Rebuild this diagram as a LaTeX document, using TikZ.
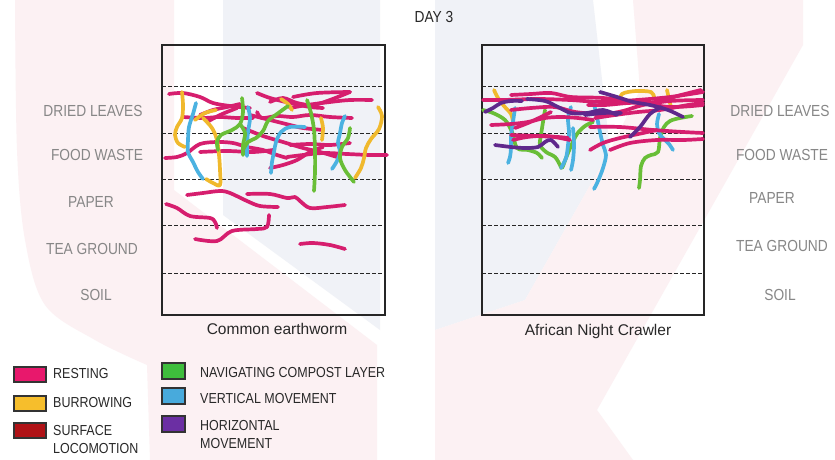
\documentclass[tikz,border=0pt]{standalone}
\usepackage{fontspec}
\setmainfont{Liberation Sans}
\newfontfamily\condf[FakeStretch=0.86]{Liberation Sans}
\definecolor{cpink}{RGB}{214,30,110}
\definecolor{cyel}{RGB}{240,185,45}
\definecolor{cgreen}{RGB}{105,190,55}
\definecolor{cblue}{RGB}{75,178,225}
\definecolor{cpurple}{RGB}{95,40,140}
\definecolor{sPink}{RGB}{232,24,108}
\definecolor{sYel}{RGB}{246,190,44}
\definecolor{sRed}{RGB}{176,18,22}
\definecolor{sGreen}{RGB}{62,190,60}
\definecolor{sBlue}{RGB}{72,170,220}
\definecolor{sPurple}{RGB}{107,47,163}
\definecolor{wmpink}{RGB}{252,241,243}
\definecolor{wmblue}{RGB}{240,242,247}
\definecolor{lblgrey}{RGB}{135,135,135}
\definecolor{txtdark}{RGB}{40,40,40}
\begin{document}
\begin{tikzpicture}[x=1pt,y=-1pt,
  worm/.style={line width=3.7pt, line cap=round, line join=round},
  rest/.style={worm, draw=cpink},
  burrow/.style={worm, draw=cyel},
  navig/.style={worm, draw=cgreen},
  vert/.style={worm, draw=cblue},
  horiz/.style={worm, draw=cpurple},
  frame/.style={draw=black!85, line width=1.3pt},
  layer/.style={draw=black!85, line width=0.9pt, dash pattern=on 3.5pt off 2.5pt},
  lbl/.style={text=lblgrey, inner sep=0pt, font=\condf\fontsize{16}{19}\selectfont},
  captext/.style={text=txtdark, inner sep=0pt, font=\fontsize{15.5}{18}\selectfont},
  leg/.style={text=txtdark, inner sep=0pt, anchor=west, align=left, font=\condf\fontsize{14.5}{18}\selectfont},
  swatch/.style={draw=black!80, line width=1.1pt, inner sep=0pt},
  sm/.style={smooth, tension=0.55}]
\useasboundingbox (0,0) rectangle (835,460);
\fill[white] (0,0) rectangle (835,460);
% faint watermark
\fill[wmpink] plot[sm] coordinates {(15,0) (17,150) (25,240) (45,305) (95,340) (147,365)} -- (150,460) -- (377,460) -- (377,345) -- (174,190) -- (174,0) -- cycle;
\fill[wmblue] (223,0) -- (380,0) -- (380,330) -- (223,215) -- cycle;
\fill[wmblue] (435,0) -- (593,0) -- (610,150) -- (525,300) -- (435,330) -- cycle;
\fill[wmpink] (633,0) -- (803,0) -- (803,45) -- (597,410) -- (633,460) -- (435,460) -- (435,330) -- (525,300) -- (610,150) -- (640,90) -- cycle;

% title
\node[text=txtdark, inner sep=0pt, font=\condf\fontsize{16}{19}\selectfont] (title) at (434,17) {DAY 3};

% frames
\draw[frame] (162,45) rectangle (385,315);
\draw[frame] (482,45) rectangle (704,315);
\foreach \yy in {86,133,179,225,273}{
  \draw[layer] (162,\yy) -- (385,\yy);
  \draw[layer] (482,\yy) -- (704,\yy);
}

% ---------- left box: common earthworm ----------
\draw[rest] plot[sm] coordinates {(169,94) (183,93) (200,97) (213,103) (230,106) (250,108)};
\draw[rest] plot[sm] coordinates {(257,93) (270,98) (290,103) (310,107) (323,108)};
\draw[rest] plot[sm] coordinates {(293,97) (317,93) (350,92)};
\draw[rest] plot[sm] coordinates {(270,102) (283,98) (297,103) (313,105) (330,100) (350,92)};
\draw[rest] plot[sm] coordinates {(290,108) (307,105) (330,102) (350,100) (372,100)};
\draw[rest] plot[sm] coordinates {(183,117) (203,118) (220,117) (237,118) (253,118)};
\draw[rest] plot[sm] coordinates {(200,115) (213,110) (227,107) (240,104)};
\draw[rest] plot[sm] coordinates {(207,122) (220,115) (237,108)};
\draw[rest] plot[sm] coordinates {(257,112) (262,118) (277,116) (293,117) (310,115) (330,117) (352,118)};
\draw[rest] plot[sm] coordinates {(250,115) (270,120) (290,125) (303,128) (323,130)};
\draw[rest] plot[sm] coordinates {(165,158) (177,157) (187,153) (200,144) (217,142) (233,143) (247,147) (263,150) (277,155) (287,158)};
\draw[rest] plot[sm] coordinates {(200,152) (227,151) (253,152) (273,150)};
\draw[rest] plot[sm] coordinates {(243,128) (263,136) (283,142) (303,148) (320,152) (337,157)};
\draw[rest] plot[sm] coordinates {(290,145) (310,144) (330,145) (350,143)};
\draw[rest] plot[sm] coordinates {(287,157) (303,155) (323,153) (347,154) (370,155) (387,155)};
\draw[rest] plot[sm] coordinates {(270,168) (283,165) (297,160) (310,152) (323,147)};
\draw[rest] plot[sm] coordinates {(187,195) (203,193) (220,191) (230,193) (247,201) (260,206) (278,207)};
\draw[rest] plot[sm] coordinates {(247,194) (270,194) (287,198) (295,197) (300,201) (310,208) (327,207) (345,205)};
\draw[rest] plot[sm] coordinates {(166,204) (177,208) (190,216) (210,218) (215,222) (217,228)};
\draw[rest] plot[sm] coordinates {(195,239) (217,241) (232,231) (257,229) (267,227) (269,215)};
\draw[rest] plot[sm] coordinates {(300,244) (313,243) (330,245) (345,249)};

\draw[burrow] plot[sm] coordinates {(182,92) (183,105) (182,118) (177,127) (175,135) (178,143) (185,147)};
\draw[burrow] plot[sm] coordinates {(195,120) (205,113) (216,110)};
\draw[burrow] plot[sm] coordinates {(203,118) (212,128) (217,140) (219,155) (220,170) (220,185) (213,183) (206,179)};
\draw[burrow] plot[sm] coordinates {(378,107) (382,116) (379,129) (371,139) (366,148) (364,158) (361,168) (355,178)};
\draw[burrow] plot[sm] coordinates {(281,99) (288,104) (292,110)};
\draw[burrow] plot[sm] coordinates {(321,118) (323,128) (322,140)};

\draw[vert] plot[sm] coordinates {(196,103) (193,114) (189,127) (188,140) (188,152) (193,162) (198,172) (203,179)};
\draw[vert] plot[sm] coordinates {(248,107) (250,118) (248,132) (247,145) (247,156)};
\draw[vert] plot[sm] coordinates {(305,127) (290,127) (281,132) (276,142) (274,152) (272,162) (271,173)};
\draw[vert] plot[sm] coordinates {(345,116) (342,123) (340,133) (338,143) (340,152) (337,161) (332,169)};

\draw[navig] plot[sm] coordinates {(242,98) (243,112) (240,124) (232,130) (221,135) (217,142) (218,150)};
\draw[navig] plot[sm] coordinates {(240,124) (245,133) (243,145) (243,155)};
\draw[navig] plot[sm] coordinates {(288,106) (277,114) (268,121) (263,131) (256,138) (248,142) (243,150)};
\draw[navig] plot[sm] coordinates {(307,100) (311,113) (314,130) (315,152) (315,172) (314,191)};
\draw[navig] plot[sm] coordinates {(350,128) (348,138) (342,147) (340,158) (345,170) (354,182)};

% ---------- right box: african night crawler ----------
\draw[burrow] plot[sm] coordinates {(494,90) (498,98) (504,106) (511,114) (513,122)};
\draw[burrow] plot[sm] coordinates {(620,103) (622,94) (636,91) (651,92) (654,97)};
\draw[burrow] plot[sm] coordinates {(667,90) (669,99) (671,107)};

\draw[navig] plot[sm] coordinates {(483,110) (493,113) (505,120) (512,132) (517,148) (528,150) (537,153) (542,158)};
\draw[navig] plot[sm] coordinates {(545,110) (543,122) (541,135) (540,145) (546,152) (555,157) (560,165) (562,168) (566,158) (571,146) (577,134) (585,126) (593,122)};
\draw[navig] plot[sm] coordinates {(692,116) (680,118) (670,121) (664,127) (660,138) (658,152) (651,155) (645,158) (641,166) (640,180) (639,188)};

\draw[vert] plot[sm] coordinates {(515,108) (513,122) (511,136) (511,148) (510,157) (508,163)};
\draw[vert] plot[sm] coordinates {(571,107) (568,118) (569,132) (568,145) (566,158) (561,168)};
\draw[vert] plot[sm] coordinates {(573,128) (574,145) (573,160) (571,170)};
\draw[vert] plot[sm] coordinates {(594,104) (597,117) (600,132) (603,145) (606,155) (603,168) (598,181) (594,189)};
\draw[vert] plot[sm] coordinates {(659,114) (657,124) (659,133) (664,139) (669,144) (673,150)};

\draw[rest] plot[sm] coordinates {(483,100) (503,100) (537,99) (570,100) (603,102) (637,100) (670,97) (703,92)};
\draw[rest] plot[sm] coordinates {(511,95) (531,94) (551,93) (571,97) (603,98) (637,102) (670,107) (703,105)};
\draw[rest] plot[sm] coordinates {(511,110) (531,108) (555,107) (575,112) (603,114) (623,111) (643,105) (670,101) (703,100)};
\draw[rest] plot[sm] coordinates {(491,125) (511,124) (528,122) (545,118) (561,117) (578,118) (593,120)};
\draw[rest] plot[sm] coordinates {(511,135) (535,136) (558,137) (568,138)};
\draw[rest] plot[sm] coordinates {(515,128) (528,123) (541,117) (551,112)};
\draw[rest] plot[sm] coordinates {(590,150) (603,143) (620,138) (643,133) (657,130)};
\draw[rest] plot[sm] coordinates {(610,150) (630,143) (657,140) (683,140) (703,139)};
\draw[rest] plot[sm] coordinates {(590,127) (620,127) (653,130) (683,132) (703,133)};
\draw[rest] plot[sm] coordinates {(513,140) (527,137) (547,136) (570,140)};
\draw[rest] plot[sm] coordinates {(588,105) (605,105) (628,103) (655,102) (681,95) (701,90)};
\draw[rest] plot[sm] coordinates {(595,118) (615,115) (638,112) (660,110) (688,105) (703,103)};

\draw[horiz] plot[sm] coordinates {(485,112) (493,108) (501,103) (511,101) (522,101)};
\draw[horiz] plot[sm] coordinates {(527,99) (545,101) (558,107) (571,113) (587,113) (603,110) (617,115)};
\draw[horiz] plot[sm] coordinates {(495,145) (511,147) (525,148) (538,147) (545,142) (551,140) (558,147)};
\draw[horiz] plot[sm] coordinates {(600,92) (617,97) (633,102) (650,105) (668,110) (683,117)};
\draw[horiz] plot[sm] coordinates {(585,115) (603,113) (621,113)};
\draw[horiz] plot[sm] coordinates {(630,137) (640,127) (650,114) (661,107)};

% layer labels
\node[lbl] (l1) at (93,111) {DRIED LEAVES};
\node[lbl] (l2) at (97,155) {FOOD WASTE};
\node[lbl] (l3) at (91,202) {PAPER};
\node[lbl] (l4) at (92,249) {TEA GROUND};
\node[lbl] (l5) at (96,295) {SOIL};
\node[lbl] (r1) at (780,111) {DRIED LEAVES};
\node[lbl] (r2) at (782,155) {FOOD WASTE};
\node[lbl] (r3) at (772,198) {PAPER};
\node[lbl] (r4) at (782,246) {TEA GROUND};
\node[lbl] (r5) at (780,295) {SOIL};

% captions
\node[captext] (c1) at (277,329) {Common earthworm};
\node[captext] (c2) at (598,331) {African Night Crawler};

% legend
\node[swatch, fill=sPink, minimum width=32pt, minimum height=15pt] (s1) at (30,374.5) {};
\node[swatch, fill=sYel, minimum width=32pt, minimum height=15pt] (s2) at (30,403.5) {};
\node[swatch, fill=sRed, minimum width=32pt, minimum height=15pt] (s3) at (30,430.5) {};
\node[swatch, fill=sGreen, minimum width=23pt, minimum height=16pt] (s4) at (173.5,371) {};
\node[swatch, fill=sBlue, minimum width=23pt, minimum height=16pt] (s5) at (173.5,396) {};
\node[swatch, fill=sPurple, minimum width=23pt, minimum height=16pt] (s6) at (173.5,424) {};
\node[leg] (t1) at (53,374) {RESTING};
\node[leg] (t2) at (53,403) {BURROWING};
\node[leg] (t3) at (53,440) {SURFACE\\LOCOMOTION};
\node[leg] (t4) at (200,373) {NAVIGATING COMPOST LAYER};
\node[leg] (t5) at (200,399) {VERTICAL MOVEMENT};
\node[leg] (t6) at (200,434.5) {HORIZONTAL\\MOVEMENT};
\end{tikzpicture}
\end{document}
